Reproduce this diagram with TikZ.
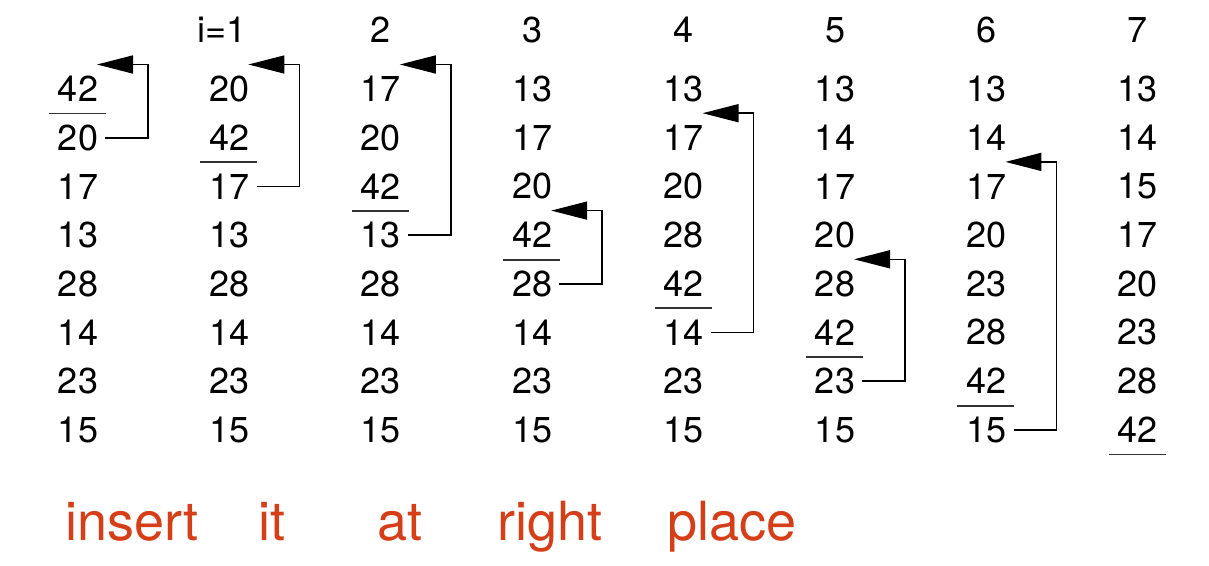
\documentclass[tikz,border=0pt]{standalone}
\usepackage{fontspec}
\setmainfont{TeX Gyre Heros}
\usetikzlibrary{arrows.meta, positioning, calc}
\definecolor{penred}{RGB}{214,62,24}

\begin{document}
\begin{tikzpicture}[x=1pt, y=-1pt, >={Triangle[length=36pt, width=18pt]},
  num/.style={font=\fontsize{36}{36}\selectfont, inner xsep=7pt, inner ysep=0pt},
  hand/.style={font=\fontsize{54}{54}\selectfont, text=penred, anchor=base}]
  \useasboundingbox (0,0) rectangle (1209,565);
  % header
  \node[num] (h-1) at (222,30) {i=1};
  \foreach \c in {2,...,7}
    \node[num] (h-\c) at ({78+151.4*\c},30) {\c};
  % one column per pass, sorted part underlined
  \foreach \c/\vals in {0/{42,20,17,13,28,14,23,15},
                        1/{20,42,17,13,28,14,23,15},
                        2/{17,20,42,13,28,14,23,15},
                        3/{13,17,20,42,28,14,23,15},
                        4/{13,17,20,28,42,14,23,15},
                        5/{13,14,17,20,28,42,23,15},
                        6/{13,14,17,20,23,28,42,15},
                        7/{13,14,15,17,20,23,28,42}} {
    \foreach \v [count=\r from 0] in \vals
      \node[num] (v-\c-\r) at ({78+151.4*\c},{89+48.7*\r}) {\v};
    \draw[line width=1.8pt, black!80] ({78+151.4*\c-29},{89+48.7*\c+24.5}) -- ++(57,0);
  }
  % insertion arrows
  \foreach \c/\t in {0/0, 1/0, 2/0, 3/3, 4/1, 5/4, 6/2} {
    \pgfmathtruncatemacro\r{\c+1}
    \coordinate (up-\c) at ({78+151.4*\c+70},{89+48.7*\t-24.5});
    \coordinate (tip-\c) at ({78+151.4*\c+19},{89+48.7*\t-24.5});
    \draw[->, line width=1.6pt] (v-\c-\r.east) -| (up-\c) -- (tip-\c);
  }
  % note
  \node[hand] (w-1) at (132,540) {insert};
  \node[hand] (w-2) at (272,540) {it};
  \node[hand] (w-3) at (400,540) {at};
  \node[hand] (w-4) at (550,540) {right};
  \node[hand] (w-5) at (732,540) {place};
\end{tikzpicture}
\end{document}
